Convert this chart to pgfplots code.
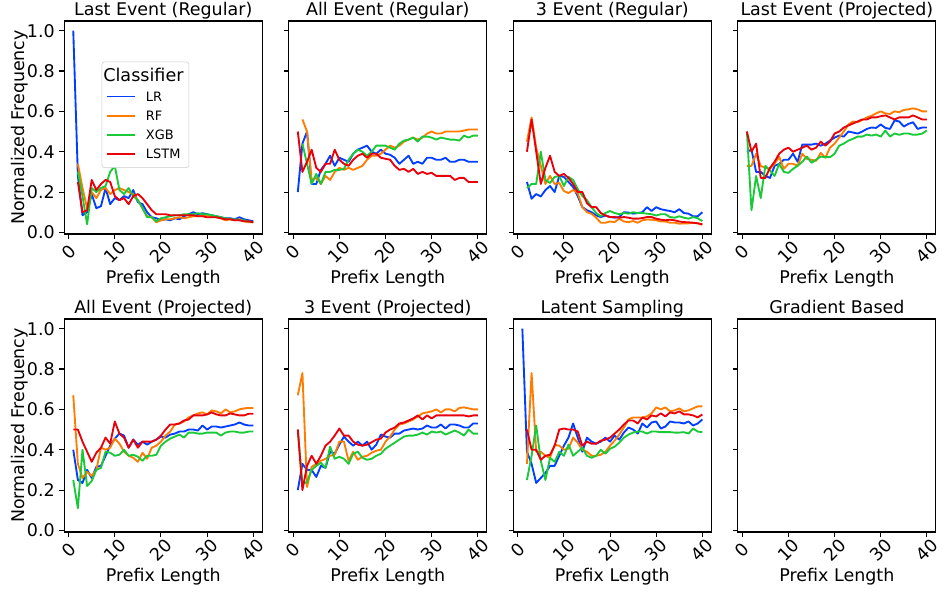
\documentclass[border=0pt]{standalone}
\usepackage{fontspec}
\setmainfont{DejaVu Sans}
\usepackage{pgfplots}
\usepackage{pgfplotstable}
\pgfplotsset{compat=1.18}
\usepgfplotslibrary{groupplots}
\usetikzlibrary{calc}

\definecolor{lrc}{HTML}{023EFF}
\definecolor{rfc}{HTML}{FF7C00}
\definecolor{xgbc}{HTML}{1AC938}
\definecolor{lstmc}{HTML}{E8000B}
\newcommand{\fs}{\fontsize{13.1}{15.7}\selectfont}
\newcommand{\sample}[1]{\textcolor{#1}{\rule[2.8pt]{21pt}{1.4pt}}\hspace{8pt}}

% Last Event (Regular)
\pgfplotstableread{
x lr rf xgb lstm
1 1.00 nan nan nan
2 0.28 0.34 0.30 0.25
3 0.085 0.22 0.18 0.10
4 0.10 0.12 0.04 0.11
5 0.19 0.20 0.22 0.26
6 0.12 0.17 0.20 0.21
7 0.13 0.21 0.22 0.24
8 0.22 0.22 0.23 0.26
9 0.14 0.19 0.30 0.25
10 0.17 0.21 0.33 0.18
11 0.16 0.22 0.21 0.16
12 0.18 0.21 0.19 0.17
13 0.17 0.20 0.22 0.14
14 0.21 0.19 0.18 0.18
15 0.15 0.16 0.16 0.19
16 0.14 0.12 0.12 0.17
17 0.10 0.08 0.075 0.14
18 0.075 0.075 0.075 0.11
19 0.07 0.05 0.055 0.09
20 0.06 0.06 0.07 0.09
21 0.065 0.065 0.075 0.09
22 0.06 0.065 0.08 0.085
23 0.07 0.07 0.085 0.085
24 0.065 0.075 0.085 0.085
25 0.08 0.07 0.09 0.085
26 0.09 0.075 0.09 0.085
27 0.10 0.08 0.09 0.085
28 0.09 0.08 0.095 0.08
29 0.095 0.085 0.09 0.08
30 0.09 0.085 0.09 0.075
31 0.085 0.08 0.085 0.075
32 0.08 0.075 0.08 0.075
33 0.075 0.07 0.075 0.07
34 0.07 0.06 0.07 0.065
35 0.07 0.065 0.065 0.065
36 0.065 0.06 0.065 0.06
37 0.075 0.065 0.06 0.06
38 0.065 0.055 0.06 0.055
39 0.06 0.05 0.055 0.055
40 0.055 0.05 0.05 0.05
}\tA

% All Event (Regular)
\pgfplotstableread{
x lr rf xgb lstm
1 0.20 nan nan 0.50
2 0.44 0.56 0.44 0.30
3 0.50 0.50 0.34 0.35
4 0.24 0.26 0.24 0.41
5 0.24 0.27 0.29 0.32
6 0.31 0.24 0.24 0.30
7 0.34 0.28 0.30 0.34
8 0.38 0.26 0.30 0.34
9 0.33 0.30 0.31 0.41
10 0.37 0.32 0.31 0.36
11 0.36 0.31 0.315 0.34
12 0.35 0.32 0.36 0.33
13 0.39 0.31 0.39 0.36
14 0.41 0.32 0.41 0.38
15 0.42 0.33 0.40 0.39
16 0.43 0.36 0.38 0.37
17 0.40 0.38 0.40 0.39
18 0.39 0.38 0.43 0.39
19 0.41 0.39 0.43 0.37
20 0.39 0.41 0.43 0.365
21 0.385 0.43 0.42 0.36
22 0.37 0.42 0.41 0.33
23 0.34 0.43 0.44 0.31
24 0.36 0.45 0.455 0.315
25 0.38 0.46 0.46 0.30
26 0.34 0.47 0.47 0.315
27 0.35 0.46 0.45 0.29
28 0.34 0.47 0.475 0.30
29 0.37 0.49 0.475 0.29
30 0.37 0.50 0.47 0.295
31 0.36 0.49 0.46 0.28
32 0.36 0.49 0.47 0.28
33 0.37 0.50 0.465 0.28
34 0.35 0.50 0.46 0.28
35 0.35 0.50 0.46 0.26
36 0.36 0.50 0.455 0.27
37 0.36 0.505 0.48 0.27
38 0.35 0.51 0.47 0.25
39 0.35 0.51 0.48 0.25
40 0.35 0.51 0.48 0.25
}\tB

% 3 Event (Regular)
\pgfplotstableread{
x lr rf xgb lstm
2 0.25 0.45 0.22 0.40
3 0.167 0.57 0.24 0.56
4 0.19 0.42 0.24 0.40
5 0.178 0.33 0.40 0.24
6 0.21 0.24 0.26 0.32
7 0.23 0.28 0.245 0.38
8 0.20 0.24 0.275 0.30
9 0.28 0.245 0.28 0.28
10 0.275 0.205 0.23 0.29
11 0.25 0.195 0.275 0.27
12 0.225 0.21 0.26 0.24
13 0.18 0.195 0.215 0.20
14 0.125 0.125 0.18 0.20
15 0.11 0.10 0.16 0.145
16 0.10 0.092 0.125 0.125
17 0.084 0.073 0.096 0.125
18 0.076 0.048 0.08 0.096
19 0.084 0.048 0.096 0.084
20 0.076 0.054 0.106 0.076
21 0.073 0.051 0.096 0.076
22 0.076 0.068 0.09 0.073
23 0.10 0.054 0.096 0.076
24 0.098 0.051 0.093 0.073
25 0.093 0.056 0.10 0.068
26 0.096 0.048 0.096 0.068
27 0.10 0.06 0.096 0.071
28 0.125 0.064 0.093 0.076
29 0.106 0.063 0.09 0.076
30 0.125 0.06 0.084 0.068
31 0.115 0.054 0.09 0.063
32 0.11 0.054 0.09 0.06
33 0.106 0.048 0.076 0.063
34 0.10 0.048 0.073 0.06
35 0.115 0.043 0.08 0.054
36 0.096 0.045 0.073 0.051
37 0.093 0.045 0.068 0.05
38 0.08 0.047 0.076 0.048
39 0.08 0.045 0.07 0.045
40 0.10 0.038 0.056 0.04
}\tC

% Last Event (Projected)
\pgfplotstableread{
x lr rf xgb lstm
1 0.40 0.33 0.50 0.50
2 0.41 0.33 0.11 0.40
3 0.30 0.39 0.28 0.44
4 0.30 0.33 0.17 0.27
5 0.28 0.32 0.33 0.27
6 0.27 0.315 0.307 0.32
7 0.33 0.34 0.28 0.35
8 0.34 0.375 0.34 0.39
9 0.36 0.315 0.30 0.41
10 0.36 0.34 0.295 0.42
11 0.39 0.34 0.315 0.40
12 0.35 0.33 0.33 0.41
13 0.435 0.39 0.35 0.42
14 0.435 0.365 0.376 0.43
15 0.435 0.36 0.345 0.41
16 0.44 0.355 0.36 0.42
17 0.43 0.394 0.376 0.45
18 0.44 0.37 0.373 0.43
19 0.455 0.42 0.373 0.45
20 0.47 0.44 0.39 0.49
21 0.48 0.47 0.43 0.50
22 0.475 0.50 0.44 0.52
23 0.50 0.535 0.455 0.53
24 0.495 0.55 0.464 0.54
25 0.49 0.546 0.475 0.55
26 0.50 0.558 0.475 0.56
27 0.513 0.57 0.485 0.56
28 0.52 0.578 0.48 0.57
29 0.518 0.59 0.485 0.57
30 0.535 0.60 0.475 0.576
31 0.518 0.59 0.505 0.58
32 0.513 0.587 0.475 0.57
33 0.555 0.60 0.49 0.56
34 0.55 0.596 0.484 0.57
35 0.525 0.607 0.49 0.57
36 0.538 0.61 0.49 0.57
37 0.546 0.615 0.484 0.58
38 0.513 0.61 0.485 0.57
39 0.52 0.60 0.49 0.56
40 0.52 0.60 0.505 0.56
}\tD

% All Event (Projected)
\pgfplotstableread{
x lr rf xgb lstm
1 0.40 0.67 0.25 0.50
2 0.25 0.33 0.11 0.50
3 0.235 0.26 0.40 0.44
4 0.30 0.29 0.22 0.39
5 0.26 0.27 0.245 0.34
6 0.315 0.30 0.30 0.385
7 0.32 0.41 0.31 0.41
8 0.37 0.40 0.39 0.46
9 0.42 0.41 0.385 0.43
10 0.455 0.455 0.37 0.54
11 0.48 0.43 0.375 0.48
12 0.47 0.39 0.40 0.46
13 0.41 0.37 0.37 0.41
14 0.45 0.36 0.375 0.45
15 0.425 0.34 0.365 0.41
16 0.44 0.385 0.345 0.44
17 0.425 0.355 0.37 0.44
18 0.44 0.41 0.37 0.44
19 0.45 0.42 0.375 0.45
20 0.465 0.44 0.42 0.47
21 0.46 0.47 0.44 0.50
22 0.475 0.49 0.455 0.525
23 0.48 0.525 0.465 0.525
24 0.49 0.53 0.475 0.53
25 0.49 0.54 0.46 0.545
26 0.50 0.56 0.485 0.55
27 0.50 0.57 0.485 0.57
28 0.495 0.58 0.48 0.57
29 0.52 0.585 0.48 0.57
30 0.50 0.575 0.485 0.575
31 0.515 0.595 0.485 0.585
32 0.515 0.59 0.485 0.575
33 0.51 0.58 0.47 0.57
34 0.515 0.60 0.485 0.57
35 0.52 0.585 0.49 0.58
36 0.525 0.59 0.49 0.575
37 0.535 0.60 0.485 0.57
38 0.525 0.605 0.485 0.57
39 0.52 0.607 0.49 0.578
40 0.52 0.607 0.49 0.578
}\tE

% 3 Event (Projected)
\pgfplotstableread{
x lr rf xgb lstm
1 0.20 0.67 0.50 0.50
2 0.33 0.78 0.23 0.20
3 0.30 0.215 0.24 0.32
4 0.30 0.315 0.30 0.37
5 0.265 0.33 0.32 0.33
6 0.32 0.345 0.335 0.37
7 0.31 0.355 0.31 0.42
8 0.39 0.37 0.415 0.44
9 0.38 0.375 0.355 0.47
10 0.425 0.44 0.365 0.505
11 0.465 0.44 0.355 0.47
12 0.44 0.345 0.33 0.47
13 0.42 0.39 0.38 0.44
14 0.44 0.35 0.39 0.425
15 0.42 0.365 0.36 0.42
16 0.44 0.37 0.35 0.425
17 0.40 0.385 0.355 0.437
18 0.425 0.395 0.37 0.45
19 0.475 0.40 0.38 0.455
20 0.465 0.44 0.405 0.485
21 0.46 0.465 0.42 0.50
22 0.48 0.50 0.435 0.51
23 0.48 0.525 0.45 0.53
24 0.495 0.53 0.465 0.535
25 0.50 0.54 0.47 0.545
26 0.505 0.55 0.47 0.555
27 0.50 0.565 0.475 0.57
28 0.505 0.58 0.485 0.55
29 0.52 0.585 0.475 0.57
30 0.51 0.59 0.49 0.555
31 0.51 0.60 0.485 0.57
32 0.525 0.585 0.49 0.57
33 0.505 0.60 0.475 0.57
34 0.525 0.60 0.485 0.57
35 0.525 0.59 0.495 0.57
36 0.52 0.607 0.485 0.57
37 0.51 0.61 0.47 0.57
38 0.51 0.605 0.50 0.565
39 0.53 0.60 0.48 0.57
40 0.53 0.60 0.48 0.57
}\tF

% Latent Sampling
\pgfplotstableread{
x lr rf xgb lstm
1 1.00 nan nan nan
2 0.39 0.33 0.25 0.50
3 0.33 0.78 0.37 0.40
4 0.235 0.39 0.52 0.40
5 0.26 0.39 0.345 0.35
6 0.285 0.37 0.25 0.37
7 0.32 0.36 0.36 0.375
8 0.32 0.425 0.34 0.42
9 0.37 0.42 0.39 0.50
10 0.42 0.40 0.37 0.505
11 0.46 0.405 0.425 0.50
12 0.53 0.46 0.37 0.50
13 0.46 0.435 0.39 0.49
14 0.39 0.40 0.41 0.42
15 0.46 0.39 0.37 0.44
16 0.44 0.37 0.36 0.43
17 0.43 0.37 0.37 0.43
18 0.44 0.375 0.40 0.445
19 0.46 0.39 0.38 0.45
20 0.44 0.42 0.405 0.46
21 0.47 0.445 0.415 0.48
22 0.45 0.475 0.435 0.50
23 0.485 0.51 0.46 0.525
24 0.51 0.55 0.475 0.545
25 0.50 0.56 0.485 0.545
26 0.48 0.56 0.49 0.53
27 0.53 0.56 0.49 0.56
28 0.51 0.565 0.48 0.55
29 0.535 0.58 0.49 0.57
30 0.54 0.61 0.49 0.565
31 0.505 0.60 0.487 0.58
32 0.515 0.61 0.487 0.565
33 0.54 0.59 0.487 0.585
34 0.535 0.595 0.485 0.58
35 0.535 0.605 0.485 0.59
36 0.53 0.59 0.487 0.575
37 0.54 0.595 0.48 0.575
38 0.52 0.605 0.505 0.57
39 0.53 0.615 0.49 0.56
40 0.55 0.615 0.487 0.575
}\tG

\newcommand{\fourlines}[1]{%
  \addplot[lrc] table[x=x,y=lr]{#1};
  \addplot[rfc] table[x=x,y=rf]{#1};
  \addplot[xgbc] table[x=x,y=xgb]{#1};
  \addplot[lstmc] table[x=x,y=lstm]{#1};
}

\begin{document}
\begin{tikzpicture}
\begin{groupplot}[
  group style={group size=4 by 2, horizontal sep=19.9pt, vertical sep=63.75pt,
    yticklabels at=edge left},
  scale only axis, width=148.5pt, height=159.75pt,
  xmin=-0.95, xmax=41.95, ymin=-0.008, ymax=1.048,
  xtick={0,10,20,30,40}, ytick={0,0.2,0.4,0.6,0.8,1.0},
  tick pos=left, tick align=outside, major tick length=3.6pt,
  every tick/.style={black, line width=0.8pt},
  axis line style={line width=0.8pt},
  /pgf/number format/assume math mode=true,
  yticklabel style={/pgf/number format/.cd, fixed, fixed zerofill, precision=1},
  tick label style={font=\fs},
  xticklabel style={yshift=-10pt, rotate=45, anchor=center},
  title style={font=\fs, at={(axis description cs:0.5,1.026)}, anchor=base, yshift=-6pt},
  xlabel={Prefix Length},
  xlabel style={font=\fs, at={(axis description cs:0.5,-0.232)}, anchor=base},
  ylabel style={font=\fs, at={(axis description cs:-0.1985,0.5)}, anchor=base},
  every axis plot/.append style={line width=1.4pt, line join=round},
]
\nextgroupplot[title={Last Event (Regular)}, ylabel={Normalized Frequency},
  legend style={at={(axis description cs:0.189,0.809)}, anchor=north west,
    draw=black!20, fill=white,
    rounded corners=2pt, inner xsep=2pt, inner ysep=3pt, row sep=1.8pt,
    column sep=0pt, font=\fontsize{9.7}{11.6}\selectfont, nodes={inner sep=2pt}},
  legend cell align=left]
\addplot[lrc, forget plot] table[x=x,y=lr]{\tA};
\addplot[rfc, forget plot] table[x=x,y=rf]{\tA};
\addplot[xgbc, forget plot] table[x=x,y=xgb]{\tA};
\addplot[lstmc, forget plot] table[x=x,y=lstm]{\tA};
\addlegendimage{empty legend}
\addlegendentry{\hspace*{-3pt}\fontsize{13.2}{15.8}\selectfont Classifier}
\addlegendimage{empty legend}
\addlegendentry{\sample{lrc}LR}
\addlegendimage{empty legend}
\addlegendentry{\sample{rfc}RF}
\addlegendimage{empty legend}
\addlegendentry{\sample{xgbc}XGB}
\addlegendimage{empty legend}
\addlegendentry{\sample{lstmc}LSTM}

\nextgroupplot[title={All Event (Regular)}]
\fourlines{\tB}
\nextgroupplot[title={3 Event (Regular)}]
\fourlines{\tC}
\nextgroupplot[title={Last Event (Projected)}]
\fourlines{\tD}
\nextgroupplot[title={All Event (Projected)}, ylabel={Normalized Frequency}]
\fourlines{\tE}
\nextgroupplot[title={3 Event (Projected)}]
\fourlines{\tF}
\nextgroupplot[title={Latent Sampling}]
\fourlines{\tG}
\nextgroupplot[title={Gradient Based}]
\end{groupplot}
\pgfresetboundingbox
\path[use as bounding box] ($(group c1r2.south west)+(-48.2pt,-46.5pt)$)
  rectangle ($(group c1r1.north west)+(661.3pt,15.75pt)$);
\end{tikzpicture}
\end{document}
